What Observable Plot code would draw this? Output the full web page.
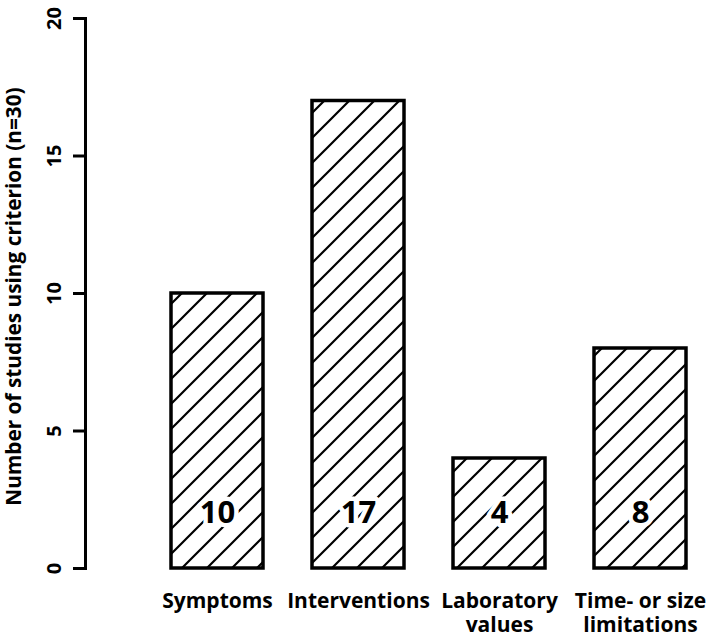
<!DOCTYPE html>
<html>
<head>
<meta charset="utf-8">
<script src="https://cdn.jsdelivr.net/npm/d3@7"></script>
<script src="https://cdn.jsdelivr.net/npm/@observablehq/plot@0.6"></script>
<style>
  html, body { margin: 0; padding: 0; background: #fff; }
  svg { font-family: "Open Sans", sans-serif; font-weight: bold; }
</style>
</head>
<body>
<div id="chart"></div>
<script>
const categories = ["Symptoms", "Interventions", "Laboratory\nvalues", "Time- or size\nlimitations"];
const counts = [10, 17, 4, 8];
const yTicks = [0, 5, 10, 15, 20];
const yLabel = "Number of studies using criterion (n=30)";

const data = categories.map((c, i) => ({category: c, count: counts[i]}));

const chart = Plot.plot({
  width: 709,
  height: 638,
  marginLeft: 85,
  marginTop: 18,
  marginBottom: 70,
  marginRight: 0,
  style: {fontFamily: "'Open Sans', sans-serif", fontWeight: "bold", background: "#fff"},
  x: {domain: categories, range: [145.6, 712.4], paddingInner: 0.344, paddingOuter: 0.172, label: null},
  y: {domain: [0, 20], label: null},
  marks: [
    Plot.barY(data, {x: "category", y: "count", fill: "url(#hatch)", stroke: "black", strokeWidth: 3.5}),
    Plot.text(data, {x: "category", y: () => 2, text: d => String(d.count), fontSize: 31, fontWeight: "bold", fill: "black", stroke: "white", strokeWidth: 9, paintOrder: "stroke"}),
    Plot.frame({anchor: "left", stroke: "black", strokeWidth: 3}),
    Plot.axisY({ticks: yTicks, tickSize: 12, tickPadding: 13, tickRotate: -90, fontSize: 20, strokeWidth: 3, label: null, tickFormat: d => String(d)}),
    Plot.axisX({tickSize: 0, tickPadding: 23, fontSize: 21, lineHeight: 1.12, label: null}),
    Plot.text([yLabel], {frameAnchor: "left", dx: -71, dy: 3, textAnchor: "middle", text: d => d, rotate: -90, fontSize: 20.8, fontWeight: "bold", fill: "black"})
  ]
});

const svg = d3.select(chart);
const defs = svg.insert("defs", ":first-child");
const pat = defs.append("pattern")
  .attr("id", "hatch")
  .attr("patternUnits", "userSpaceOnUse")
  .attr("width", 25).attr("height", 25);
pat.append("rect").attr("width", 25).attr("height", 25).attr("fill", "white");
pat.append("path")
  .attr("d", "M-5,5 L5,-5 M0,25 L25,0 M20,30 L30,20")
  .attr("stroke", "black").attr("stroke-width", 2.2);

document.getElementById("chart").appendChild(chart);
</script>
</body>
</html>
